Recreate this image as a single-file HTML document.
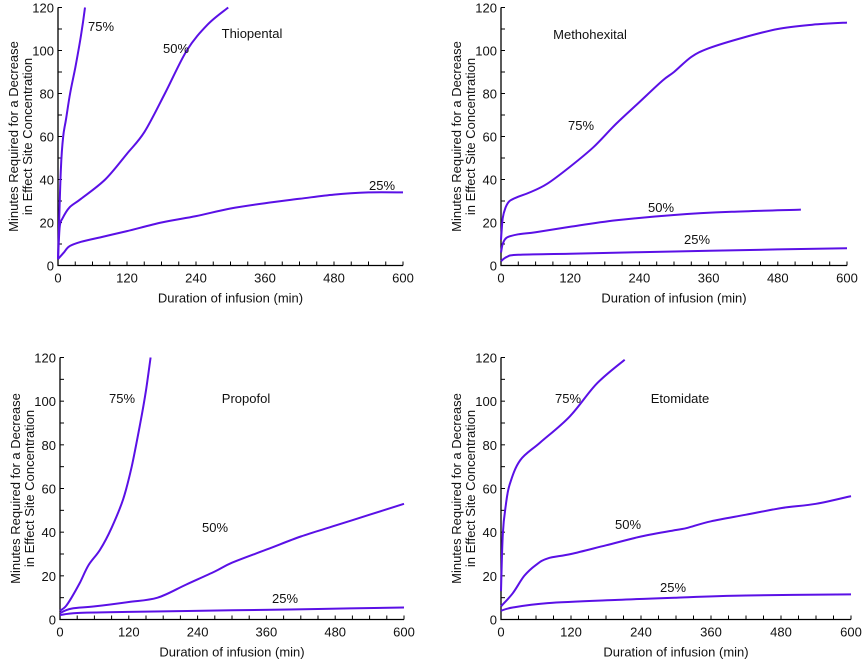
<!DOCTYPE html>
<html><head><meta charset="utf-8"><style>
body{margin:0;background:#fff;}
svg text{font-family:"Liberation Sans",Arial,sans-serif;font-size:13px;fill:#111;}
</style></head><body>
<svg id="s" width="862" height="660"></svg>
<script>
const xTicks=[0,120,240,360,480,600];
const yTicks=[0,20,40,60,80,100,120];
const thioNames=["75%","50%","25%"];
const thio75=[[0,3],[2,20],[5,45],[9,60],[14,68],[21,80],[30,92],[40,107],[47,120]];
const thio50=[[0,3],[3,18],[8,22],[20,27],[40,31],[82,40],[120,52],[150,62],[186,80],[224,100],[260,112],[296,120]];
const thio25=[[0,3],[10,6],[20,9],[40,11],[80,13.5],[120,16],[180,20],[240,23],[300,26.5],[360,29],[420,31],[480,33],[540,34],[600,34]];
const meth75=[[0,12],[3,22],[8,27],[15,30],[30,32],[50,34],[80,38],[120,46],[160,55],[200,66],[240,76],[280,86],[300,90],[330,97],[360,101],[420,106],[480,110],[540,112],[600,113]];
const meth50=[[0,6],[3,10],[10,13],[30,14.5],[60,15.5],[120,18],[200,21],[300,23.5],[400,25],[520,26]];
const meth25=[[0,2],[10,4],[30,5],[120,5.5],[300,6.5],[480,7.5],[600,8]];
const prop75=[[0,4],[10,6],[20,10],[35,17],[50,25],[70,32],[90,42],[110,55],[125,70],[140,90],[150,105],[158,120]];
const prop50=[[0,3],[20,5],[60,6],[120,8],[170,10],[220,16],[270,22],[300,26],[360,32],[420,38],[480,43],[540,48],[600,53]];
const prop25=[[0,2],[30,3],[120,3.5],[300,4.2],[450,4.8],[600,5.5]];
const etom75=[[0,13],[3,39],[8,52],[15,62],[33,73],[67,81],[118,93],[164,108],[212,119]];
const etom50=[[0,6],[20,12],[40,20],[60,25],[80,28],[120,30],[180,34],[240,38],[300,41],[320,42],[360,45],[420,48],[480,51],[540,53],[600,56.5]];
const etom25=[[0,4],[20,5.5],[80,7.5],[200,9],[300,10],[420,11],[600,11.5]];

const NS="http://www.w3.org/2000/svg";
const svg=document.getElementById('s');
function mk(t,a,p){const e=document.createElementNS(NS,t);for(const k in a)e.setAttribute(k,a[k]);(p||svg).appendChild(e);return e;}
function smooth(P){
 let d=`M${P[0][0].toFixed(1)},${P[0][1].toFixed(1)}`;
 for(let i=0;i<P.length-1;i++){
  const p0=P[i-1]||P[i],p1=P[i],p2=P[i+1],p3=P[i+2]||p2;
  const c1=[p1[0]+(p2[0]-p0[0])/6,p1[1]+(p2[1]-p0[1])/6];
  const c2=[p2[0]-(p3[0]-p1[0])/6,p2[1]-(p3[1]-p1[1])/6];
  d+=`C${c1[0].toFixed(1)},${c1[1].toFixed(1)} ${c2[0].toFixed(1)},${c2[1].toFixed(1)} ${p2[0].toFixed(1)},${p2[1].toFixed(1)}`;
 }
 return d;
}
const panels=[
 {name:"thiopental",x0:58,x1:403,y0:265.5,y1:7.5,title:"Thiopental",tp:[252,38],series:[thio75,thio50,thio25],lp:[[101,31],[176,53],[382,190]]},
 {name:"methohexital",x0:501,x1:847,y0:265.5,y1:7.5,title:"Methohexital",tp:[590,39],series:[meth75,meth50,meth25],lp:[[581,130],[661,212],[697,244]]},
 {name:"propofol",x0:60,x1:404,y0:619.5,y1:357.5,title:"Propofol",tp:[246,403],series:[prop75,prop50,prop25],lp:[[122,403],[215,532],[285,603]]},
 {name:"etomidate",x0:501,x1:851,y0:619.5,y1:357.5,title:"Etomidate",tp:[680,403],series:[etom75,etom50,etom25],lp:[[568,403],[628,529],[673,592]]}
];
panels.forEach(p=>{
 const g=mk('g',{});
 
 
 const sx=v=>p.x0+(p.x1-p.x0)*v/600, sy=v=>p.y0+(p.y1-p.y0)*v/120;
 const ax=mk('path',{d:`M${p.x0},${p.y1}V${p.y0}H${p.x1}`,stroke:'#000','stroke-width':1.3,fill:'none'},g);
 
 for(let v=30;v<=600;v+=30)mk('line',{x1:sx(v),x2:sx(v),y1:p.y0,y2:p.y0-4,stroke:'#000'},g);
 for(let v=10;v<=120;v+=10)mk('line',{x1:p.x0,x2:p.x0+4,y1:sy(v),y2:sy(v),stroke:'#000'},g);
 xTicks.forEach(v=>{const t=mk('text',{x:sx(v),y:p.y0+17,'text-anchor':'middle'},g);t.textContent=v;
  });
 yTicks.forEach(v=>{const t=mk('text',{x:p.x0-4,y:sy(v)+5,'text-anchor':'end'},g);t.textContent=v;
  });
 const xt=mk('text',{x:(p.x0+p.x1)/2,y:p.y0+37,'text-anchor':'middle','font-size':'13.5'},g);xt.textContent="Duration of infusion (min)";
 
 const cy=(p.y0+p.y1)/2;
 const yt=mk('text',{transform:`translate(${p.x0-40},${cy}) rotate(-90)`,'text-anchor':'middle','font-size':'13.5'},g);
 
 const l1=mk('tspan',{x:0,y:0},yt);l1.textContent="Minutes Required for a Decrease";
 const l2=mk('tspan',{x:0,y:14},yt);l2.textContent="in Effect Site Concentration";
 const tt=mk('text',{x:p.tp[0],y:p.tp[1],'text-anchor':'middle'},g);tt.textContent=p.title;
 
 p.series.forEach((s,i)=>{
  const P=s.map(d=>[sx(d[0]),sy(d[1])]);
  const pl=mk('path',{d:smooth(P),fill:'none',stroke:'#5a10e6','stroke-width':2,'stroke-linejoin':'round'},g);
  
  
  const lt=mk('text',{x:p.lp[i][0],y:p.lp[i][1],'text-anchor':'middle'},g);lt.textContent=thioNames[i];
  
 });
});
</script>
</body></html>
